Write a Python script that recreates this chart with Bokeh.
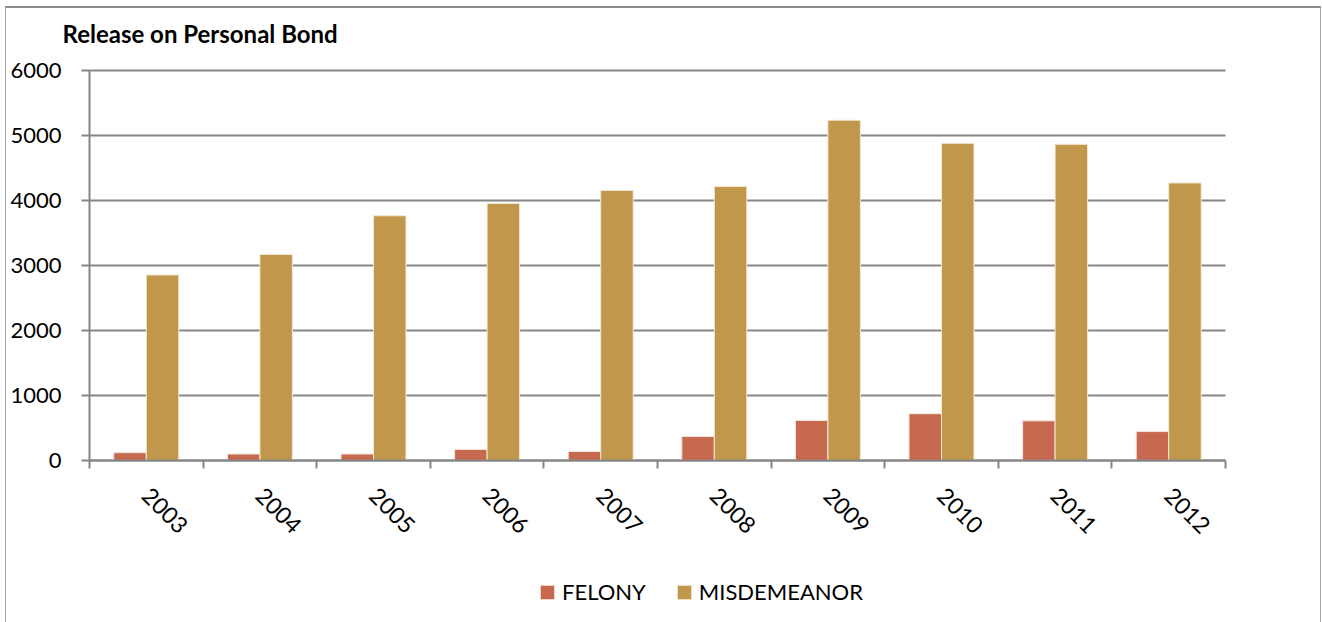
import math
from bokeh.plotting import figure
from bokeh.models import (ColumnDataSource, FixedTicker, Legend, LegendItem,
                          Range1d, Label)
from bokeh.embed import file_html
from bokeh.resources import INLINE

# ---- data ----
years = ["2003", "2004", "2005", "2006", "2007", "2008", "2009", "2010", "2011", "2012"]
felony = [120, 100, 100, 170, 140, 370, 615, 720, 610, 445]
misdemeanor = [2855, 3170, 3765, 3955, 4155, 4215, 5235, 4880, 4865, 4270]
y_ticks = [0, 1000, 2000, 3000, 4000, 5000, 6000]
series_names = ["FELONY", "MISDEMEANOR"]
title_text = "Release on Personal Bond"

FONT = "Lato"
C_FEL = "#C6694F"
C_MIS = "#C0974B"
GRID = "#868686"

# ---- geometry (pixels) ----
W, H = 1314, 614          # canvas size
plot_left, plot_right = 83, 1219   # plot area inside canvas
plot_top, plot_bottom = 62, 452

n = len(years)
ymax = y_ticks[-1]
px_per_cat = (plot_right - plot_left) / n
px_per_unit = (plot_bottom - plot_top) / ymax
x0 = -plot_left / px_per_cat
x1 = x0 + W / px_per_cat
y1 = ymax + plot_top / px_per_unit
y0 = y1 - H / px_per_unit

centers = [i + 0.5 for i in range(n)]
bw = 0.286
src = ColumnDataSource(dict(
    xf=[c - bw / 2 for c in centers],
    xm=[c + bw / 2 for c in centers],
    fel=felony, mis=misdemeanor))

p = figure(frame_width=W, frame_height=H, output_backend="svg",
           toolbar_location=None, title=None,
           x_range=Range1d(x0, x1), y_range=Range1d(y0, y1), min_border=0)
p.styles = {"margin-left": "5px", "margin-top": "6px",
            "border-left": "1px solid #a6a6a6", "border-top": "2px solid #8c8c8c",
            "border-right": "1px solid #a6a6a6"}
p.outline_line_color = None
p.background_fill_color = "white"
p.border_fill_color = "white"
p.xgrid.grid_line_color = None
p.ygrid.grid_line_color = None

# horizontal gridlines over the plot area only
p.segment(x0=[0] * len(y_ticks), x1=[n] * len(y_ticks), y0=y_ticks, y1=y_ticks,
          line_color=GRID, line_width=2)

r1 = p.vbar(x="xf", top="fel", width=bw, source=src, fill_color=C_FEL,
            line_color="#f3e6dc", line_width=1)
r2 = p.vbar(x="xm", top="mis", width=bw, source=src, fill_color=C_MIS,
            line_color="#f3e9d6", line_width=1)

# x axis: labels at centers, ticks at category boundaries
p.xaxis.fixed_location = 0
p.xaxis.bounds = (0, n)
p.xaxis.ticker = FixedTicker(ticks=centers, minor_ticks=list(range(n + 1)))
p.xaxis.major_label_overrides = {c: y for c, y in zip(centers, years)}
p.xaxis.major_tick_line_color = None
p.xaxis.minor_tick_line_color = GRID
p.xaxis.minor_tick_line_width = 2
p.xaxis.minor_tick_out = 8
p.xaxis.minor_tick_in = 0
p.xaxis.axis_line_color = GRID
p.xaxis.axis_line_width = 2
p.xaxis.major_label_orientation = -math.pi / 4
p.xaxis.major_label_text_font = FONT
p.xaxis.major_label_text_font_size = "23px"
p.xaxis.major_label_text_color = "black"
p.xaxis.major_label_standoff = 23

p.yaxis.fixed_location = 0
p.yaxis.bounds = (0, ymax)
p.yaxis.ticker = FixedTicker(ticks=y_ticks)
p.yaxis.major_tick_line_color = GRID
p.yaxis.major_tick_line_width = 2
p.yaxis.major_tick_out = 8
p.yaxis.major_tick_in = 0
p.yaxis.minor_tick_line_color = None
p.yaxis.axis_line_color = GRID
p.yaxis.axis_line_width = 2
p.yaxis.major_label_text_font = FONT
p.yaxis.major_label_text_font_size = "22px"
p.yaxis.major_label_text_color = "black"
p.yaxis.major_label_standoff = 20

p.add_layout(Label(x=56, y=H - 25, x_units="screen", y_units="screen",
                   text=title_text, text_font=FONT, text_font_style="bold",
                   text_font_size="24px", text_baseline="middle",
                   text_color="black"))

legend = Legend(items=[LegendItem(label=series_names[0], renderers=[r1]),
                       LegendItem(label=series_names[1], renderers=[r2])],
                location=(532, 17), orientation="horizontal",
                glyph_width=18, glyph_height=18, label_standoff=6, spacing=29,
                padding=0, margin=0, border_line_color=None,
                background_fill_alpha=0,
                label_text_font=FONT, label_text_font_size="22px",
                label_text_color="black", label_height=20)
p.add_layout(legend, "center")

open("out.html", "w").write(file_html(p, INLINE))
